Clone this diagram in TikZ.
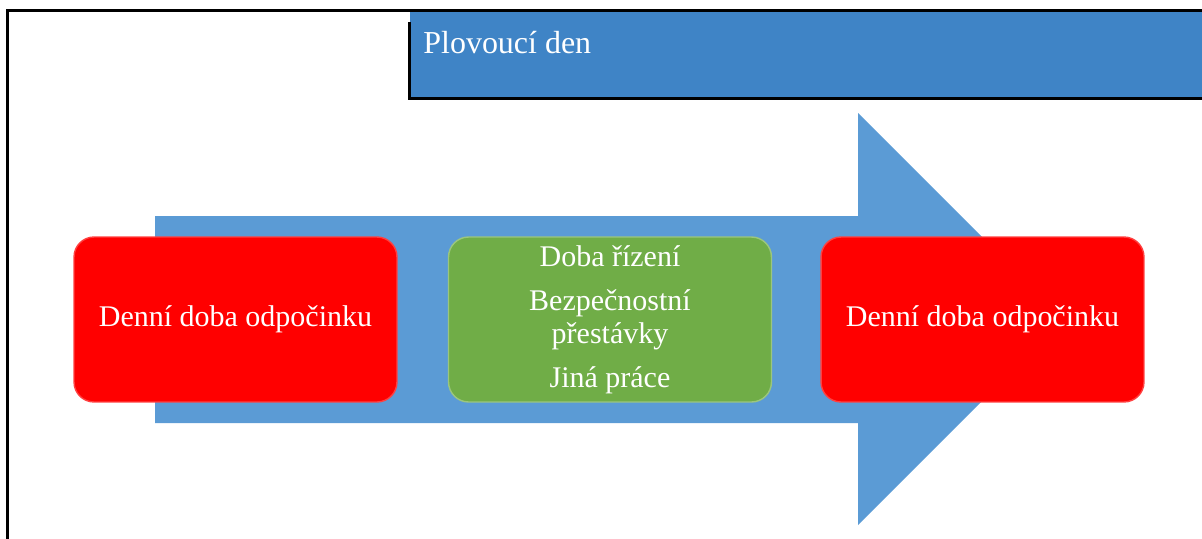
\documentclass[tikz,border=0pt]{standalone}
\usepackage{fontspec}
\setmainfont{Liberation Serif}
\usetikzlibrary{positioning}

\definecolor{headblue}{HTML}{3F84C6}
\definecolor{arrowblue}{HTML}{5B9BD5}
\definecolor{restred}{HTML}{FF0000}
\definecolor{workgreen}{HTML}{70AD47}

\begin{document}
\begin{tikzpicture}[
    x=0.02cm, y=-0.02cm,
    rule/.style={line width=0.06cm, line cap=rect},
    box/.style={rounded corners=0.4cm, minimum width=6.46cm, minimum height=3.3cm, inner sep=0pt,
                text=white, align=center, font=\fontsize{17.07}{18.8}\selectfont, line width=0.8pt},
    restbox/.style={box, fill=restred, draw=restred!75!white},
    workbox/.style={box, fill=workgreen, draw=workgreen!70!white},
    title/.style={anchor=base west, inner sep=0pt, text=white, font=\fontsize{18.2}{20}\selectfont},
]
\useasboundingbox (0,0) rectangle (1202,538);
% ----- frame and the heading cell
\fill[headblue] (409.5,10) rectangle (1202,98.5);
\node[title] (head) at (423,53) {Plovoucí den};
\draw[rule] (7.5,538) -- (7.5,10) -- (1202,10);
\draw[rule] (409.5,23) -- (409.5,98.5) -- (1202,98.5);
% ----- the big arrow behind the boxes
\fill[arrowblue] (155,216) -- (858,216) -- (858,113) -- (1064,319) -- (858,525) -- (858,423) -- (155,423) -- cycle;
% ----- rest, work, rest
\node[restbox] (rest1) at (235.5,319.5) {Denní doba odpočinku};
\node[workbox] (work) at (610,319.5) {Doba řízení\\[6.3pt] Bezpečnostní\\ přestávky\\[6.3pt] Jiná práce};
\node[restbox] (rest2) at (982.5,319.5) {Denní doba odpočinku};
\end{tikzpicture}
\end{document}
